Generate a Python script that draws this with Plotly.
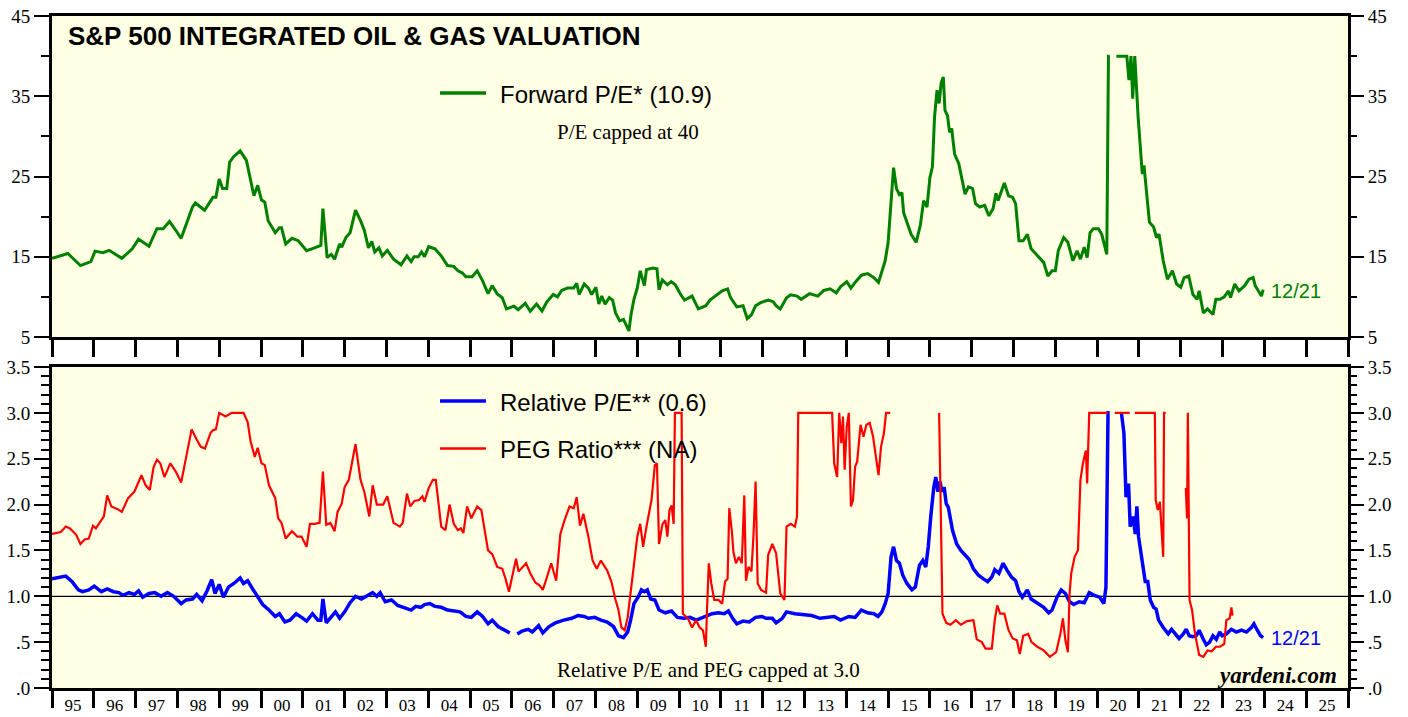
import plotly.graph_objects as go

# ---------------- data ----------------
pe_years = [1995.00, 1995.38, 1995.68, 1995.93, 1996.03, 1996.22, 1996.37, 1996.67, 1996.92, 1997.07,
            1997.32, 1997.51, 1997.66, 1997.81, 1997.96, 1998.09, 1998.36, 1998.43, 1998.65, 1998.85,
            1998.92, 1999.00, 1999.08, 1999.18, 1999.25, 1999.35, 1999.50, 1999.65, 1999.83, 1999.92,
            2000.01, 2000.09, 2000.17, 2000.34, 2000.44, 2000.49, 2000.59, 2000.74, 2000.89, 2001.09,
            2001.28, 2001.43, 2001.48, 2001.58, 2001.68, 2001.76, 2001.88, 2001.93, 2002.03, 2002.13,
            2002.26, 2002.38, 2002.47, 2002.57, 2002.65, 2002.72, 2002.82, 2002.90, 2003.02, 2003.17,
            2003.35, 2003.49, 2003.59, 2003.66, 2003.76, 2003.84, 2003.91, 2004.01, 2004.16, 2004.31,
            2004.46, 2004.61, 2004.71, 2004.81, 2004.90, 2005.05, 2005.17, 2005.30, 2005.43, 2005.53,
            2005.65, 2005.77, 2005.87, 2006.05, 2006.15, 2006.32, 2006.44, 2006.59, 2006.72, 2006.84,
            2006.99, 2007.09, 2007.19, 2007.33, 2007.48, 2007.55, 2007.61, 2007.73, 2007.83, 2007.91,
            2008.01, 2008.08, 2008.15, 2008.23, 2008.33, 2008.41, 2008.48, 2008.58, 2008.67, 2008.72,
            2008.80, 2008.85, 2008.92, 2009.00, 2009.07, 2009.17, 2009.22, 2009.37, 2009.47, 2009.52,
            2009.60, 2009.72, 2009.81, 2009.91, 2010.03, 2010.13, 2010.31, 2010.46, 2010.64, 2010.74,
            2010.89, 2011.03, 2011.16, 2011.23, 2011.38, 2011.53, 2011.63, 2011.73, 2011.83, 2011.96,
            2012.13, 2012.25, 2012.32, 2012.42, 2012.57, 2012.67, 2012.82, 2012.92, 2013.12, 2013.32,
            2013.46, 2013.61, 2013.76, 2013.86, 2014.01, 2014.11, 2014.21, 2014.36, 2014.51, 2014.66,
            2014.77, 2014.85, 2014.93, 2015.00, 2015.07, 2015.13, 2015.20, 2015.27, 2015.33, 2015.37,
            2015.45, 2015.55, 2015.67, 2015.77, 2015.85, 2015.93, 2016.00, 2016.06, 2016.11, 2016.17,
            2016.22, 2016.27, 2016.32, 2016.36, 2016.42, 2016.47, 2016.52, 2016.59, 2016.69, 2016.76,
            2016.84, 2016.92, 2017.02, 2017.09, 2017.19, 2017.31, 2017.41, 2017.51, 2017.58, 2017.63,
            2017.78, 2017.88, 2017.98, 2018.05, 2018.13, 2018.23, 2018.33, 2018.42, 2018.57, 2018.72,
            2018.82, 2018.92, 2019.00, 2019.07, 2019.20, 2019.30, 2019.42, 2019.52, 2019.60, 2019.69,
            2019.76, 2019.83, 2019.91, 2020.03, 2020.11, 2020.19, 2020.23, 2020.27, 2020.30, 2020.38,
            2020.46, 2020.71, 2020.76, 2020.81, 2020.85, 2020.90, 2020.98, 2021.08, 2021.12, 2021.25,
            2021.35, 2021.42, 2021.48, 2021.58, 2021.68, 2021.80, 2021.90, 2022.00, 2022.08, 2022.19,
            2022.29, 2022.39, 2022.44, 2022.54, 2022.64, 2022.77, 2022.84, 2022.94, 2023.04, 2023.14,
            2023.19, 2023.29, 2023.39, 2023.53, 2023.63, 2023.73, 2023.78, 2023.86, 2023.93, 2023.97]
pe_values = [14.8, 15.4, 13.9, 14.4, 15.7, 15.5, 15.8, 14.8, 16.0, 17.2,
             16.3, 18.5, 18.5, 19.4, 18.3, 17.3, 21.2, 21.7, 20.8, 22.4,
             22.4, 24.7, 23.5, 23.5, 26.8, 27.5, 28.2, 27.0, 22.6, 23.9,
             22.1, 21.8, 19.5, 18.0, 18.6, 18.6, 16.6, 17.3, 17.0, 15.75,
             16.1, 16.4, 21.0, 14.9, 15.3, 14.7, 16.6, 16.2, 17.4, 18.0,
             20.8, 19.5, 18.3, 16.1, 16.9, 15.6, 16.1, 15.1, 15.8, 14.7,
             14.0, 15.1, 14.4, 15.0, 15.0, 15.6, 15.0, 16.25, 16.0, 15.1,
             13.9, 13.8, 13.25, 13.0, 12.5, 12.5, 13.25, 12.0, 10.4, 11.4,
             10.35, 9.9, 8.5, 8.85, 8.4, 9.2, 8.2, 9.1, 8.25, 9.4,
             10.3, 10.0, 10.8, 11.1, 11.1, 11.7, 10.3, 11.6, 11.1, 10.3,
             11.2, 9.1, 10.1, 9.1, 9.9, 9.6, 8.0, 7.0, 7.2, 6.6,
             5.75, 7.8, 9.7, 11.1, 13.25, 11.4, 13.4, 13.6, 13.5, 10.9,
             12.1, 11.5, 11.9, 11.5, 10.35, 9.6, 10.1, 8.5, 8.9, 9.6,
             10.25, 10.75, 11.0, 9.9, 8.75, 8.9, 7.3, 7.75, 8.9, 9.3,
             9.6, 9.4, 8.9, 8.5, 9.9, 10.25, 10.1, 9.7, 10.4, 10.1,
             10.8, 11.0, 10.5, 11.25, 11.9, 11.1, 11.8, 12.7, 12.9, 12.4,
             11.8, 13.25, 14.5, 16.8, 22.4, 26.1, 23.5, 22.75, 23.0, 20.5,
             19.3, 17.8, 16.8, 18.9, 22.0, 21.2, 24.9, 26.2, 32.4, 35.75,
             34.1, 36.7, 37.4, 33.25, 32.6, 30.5, 31.0, 27.8, 26.6, 24.9,
             22.8, 23.7, 23.5, 21.6, 21.2, 21.4, 20.1, 21.0, 22.9, 22.0,
             24.2, 22.6, 22.4, 21.6, 17.0, 17.0, 17.8, 16.0, 15.1, 14.3,
             12.6, 13.25, 13.25, 15.75, 17.4, 16.8, 14.5, 15.75, 14.7, 16.2,
             14.9, 18.0, 18.5, 18.5, 17.8, 16.0, 15.3, 40.0, 40.0, None,
             40.0, 40.0, 37.0, 40.0, 34.7, 40.0, 32.4, 25.3, 26.4, 19.3,
             18.7, 17.4, 17.8, 14.5, 12.2, 13.25, 11.6, 11.2, 12.4, 12.6,
             10.3, 9.7, 10.75, 8.0, 8.5, 7.8, 9.7, 9.7, 10.0, 10.75,
             9.9, 11.6, 10.75, 11.4, 12.2, 12.4, 11.4, 10.7, 10.1, 10.9]

rel_years = [1995.00, 1995.33, 1995.48, 1995.63, 1995.73, 1995.88, 1996.01, 1996.18, 1996.32, 1996.47,
             1996.60, 1996.70, 1996.84, 1996.97, 1997.07, 1997.17, 1997.32, 1997.46, 1997.61, 1997.76,
             1997.91, 1998.09, 1998.21, 1998.36, 1998.46, 1998.59, 1998.71, 1998.82, 1998.90, 1999.00,
             1999.10, 1999.22, 1999.35, 1999.50, 1999.58, 1999.68, 1999.80, 1999.94, 2000.04, 2000.19,
             2000.34, 2000.44, 2000.57, 2000.69, 2000.84, 2000.97, 2001.09, 2001.23, 2001.36, 2001.43,
             2001.48, 2001.56, 2001.68, 2001.78, 2001.88, 2002.00, 2002.13, 2002.26, 2002.40, 2002.52,
             2002.67, 2002.77, 2002.85, 2002.97, 2003.12, 2003.27, 2003.42, 2003.59, 2003.70, 2003.82,
             2003.91, 2004.04, 2004.16, 2004.31, 2004.46, 2004.61, 2004.76, 2004.90, 2005.03, 2005.17,
             2005.30, 2005.43, 2005.53, 2005.67, 2005.80, 2005.95, 2006.03, 2006.13, 2006.24, 2006.39,
             2006.49, 2006.64, 2006.74, 2006.89, 2007.04, 2007.24, 2007.43, 2007.58, 2007.73, 2007.83,
             2007.98, 2008.13, 2008.28, 2008.43, 2008.55, 2008.67, 2008.77, 2008.84, 2008.92, 2009.02,
             2009.10, 2009.17, 2009.24, 2009.32, 2009.42, 2009.52, 2009.67, 2009.82, 2009.96, 2010.11,
             2010.26, 2010.41, 2010.64, 2010.79, 2010.94, 2011.08, 2011.18, 2011.28, 2011.38, 2011.53,
             2011.68, 2011.83, 2011.98, 2012.08, 2012.23, 2012.32, 2012.47, 2012.57, 2012.77, 2012.97,
             2013.17, 2013.37, 2013.56, 2013.71, 2013.86, 2014.06, 2014.21, 2014.36, 2014.51, 2014.66,
             2014.76, 2014.85, 2014.93, 2015.00, 2015.07, 2015.13, 2015.20, 2015.27, 2015.35, 2015.45,
             2015.57, 2015.65, 2015.75, 2015.83, 2015.90, 2015.96, 2016.02, 2016.09, 2016.14, 2016.19,
             2016.24, 2016.29, 2016.34, 2016.39, 2016.44, 2016.49, 2016.54, 2016.64, 2016.74, 2016.84,
             2016.94, 2017.04, 2017.16, 2017.28, 2017.38, 2017.48, 2017.55, 2017.65, 2017.75, 2017.85,
             2017.95, 2018.05, 2018.13, 2018.21, 2018.33, 2018.42, 2018.57, 2018.72, 2018.84, 2018.92,
             2019.04, 2019.14, 2019.24, 2019.34, 2019.44, 2019.57, 2019.69, 2019.81, 2019.93, 2020.06,
             2020.16, 2020.21, 2020.26, 2020.30, 2020.40, 2020.58, 2020.64, 2020.69, 2020.75, 2020.79,
             2020.86, 2020.91, 2020.95, 2020.99, 2021.05, 2021.11, 2021.15, 2021.21, 2021.27, 2021.35,
             2021.41, 2021.47, 2021.58, 2021.70, 2021.78, 2021.86, 2021.96, 2022.06, 2022.13, 2022.20,
             2022.29, 2022.37, 2022.44, 2022.53, 2022.61, 2022.69, 2022.77, 2022.85, 2022.93, 2022.99,
             2023.09, 2023.21, 2023.33, 2023.45, 2023.57, 2023.69, 2023.75, 2023.83, 2023.91, 2023.97]
rel_values = [1.19, 1.22, 1.16, 1.07, 1.05, 1.07, 1.11, 1.05, 1.08, 1.05,
              1.04, 1.01, 1.04, 1.02, 1.06, 0.99, 1.03, 1.04, 1.00, 1.04,
              1.00, 0.92, 0.96, 0.97, 1.02, 0.95, 1.06, 1.18, 1.03, 1.13,
              0.99, 1.10, 1.14, 1.20, 1.14, 1.17, 1.08, 0.97, 0.91, 0.85,
              0.78, 0.81, 0.72, 0.74, 0.81, 0.77, 0.73, 0.81, 0.74, 0.74,
              0.97, 0.71, 0.77, 0.83, 0.76, 0.83, 0.93, 1.00, 0.97, 1.00,
              1.04, 1.00, 1.04, 0.94, 0.96, 0.90, 0.88, 0.85, 0.89, 0.88,
              0.91, 0.92, 0.89, 0.88, 0.85, 0.84, 0.83, 0.78, 0.77, 0.83,
              0.78, 0.70, 0.74, 0.67, 0.64, 0.60, None, 0.59, 0.62, 0.64,
              0.61, 0.68, 0.60, 0.67, 0.71, 0.74, 0.76, 0.79, 0.78, 0.76,
              0.77, 0.74, 0.72, 0.67, 0.57, 0.55, 0.61, 0.74, 0.92, 0.99,
              1.07, 1.05, 1.07, 0.97, 0.96, 0.85, 0.82, 0.84, 0.77, 0.76,
              0.77, 0.74, 0.78, 0.81, 0.82, 0.81, 0.84, 0.76, 0.70, 0.73,
              0.72, 0.77, 0.78, 0.76, 0.76, 0.71, 0.76, 0.83, 0.81, 0.80,
              0.79, 0.76, 0.77, 0.78, 0.74, 0.78, 0.77, 0.85, 0.82, 0.81,
              0.78, 0.83, 0.92, 1.03, 1.43, 1.54, 1.39, 1.36, 1.23, 1.14,
              1.07, 1.10, 1.34, 1.39, 1.32, 1.54, 1.87, 2.18, 2.30, 2.14,
              2.25, 2.14, 2.19, 2.01, 1.97, 1.85, 1.72, 1.57, 1.50, 1.45,
              1.40, 1.30, 1.23, 1.19, 1.16, 1.21, 1.29, 1.25, 1.36, 1.28,
              1.21, 1.17, 1.05, 0.99, 1.07, 0.97, 0.92, 0.88, 0.82, 0.85,
              0.99, 1.07, 1.03, 0.94, 0.91, 0.94, 0.93, 1.04, 1.01, 0.99,
              0.92, 1.10, 3.00, 3.00, None, 3.00, 2.78, 2.08, 2.23, 1.76,
              1.87, 1.68, 1.98, 1.65, 1.43, 1.28, 1.16, 1.16, 0.96, 0.88,
              0.86, 0.74, 0.66, 0.59, 0.64, 0.59, 0.54, 0.59, 0.64, 0.57,
              0.56, 0.57, 0.63, 0.54, 0.47, 0.50, 0.57, 0.53, 0.61, 0.57,
              0.59, 0.64, 0.61, 0.63, 0.61, 0.66, 0.70, 0.63, 0.57, 0.55]

peg_years = [1995.00, 1995.21, 1995.33, 1995.43, 1995.58, 1995.68, 1995.78, 1995.88, 1995.98, 1996.05,
             1996.18, 1996.24, 1996.32, 1996.42, 1996.57, 1996.67, 1996.82, 1996.97, 1997.14, 1997.24,
             1997.34, 1997.43, 1997.51, 1997.59, 1997.69, 1997.83, 1997.96, 1998.09, 1998.21, 1998.34,
             1998.46, 1998.56, 1998.66, 1998.79, 1998.85, 1998.92, 1999.00, 1999.15, 1999.30, 1999.58,
             1999.68, 1999.75, 1999.85, 1999.92, 2000.01, 2000.09, 2000.19, 2000.34, 2000.41, 2000.49,
             2000.59, 2000.74, 2000.87, 2000.97, 2001.09, 2001.17, 2001.28, 2001.40, 2001.48, 2001.56,
             2001.66, 2001.76, 2001.83, 2001.93, 2002.00, 2002.10, 2002.26, 2002.38, 2002.47, 2002.59,
             2002.67, 2002.77, 2002.92, 2003.02, 2003.17, 2003.32, 2003.39, 2003.49, 2003.57, 2003.67,
             2003.78, 2003.86, 2003.91, 2004.01, 2004.11, 2004.18, 2004.31, 2004.41, 2004.51, 2004.61,
             2004.71, 2004.78, 2004.84, 2004.93, 2005.03, 2005.17, 2005.27, 2005.43, 2005.53, 2005.65,
             2005.77, 2005.85, 2005.93, 2006.03, 2006.10, 2006.16, 2006.26, 2006.34, 2006.44, 2006.56,
             2006.66, 2006.74, 2006.84, 2006.94, 2007.06, 2007.16, 2007.26, 2007.38, 2007.48, 2007.55,
             2007.63, 2007.71, 2007.83, 2007.93, 2008.03, 2008.13, 2008.28, 2008.38, 2008.48, 2008.55,
             2008.62, 2008.70, 2008.77, 2008.82, 2008.92, 2009.00, 2009.07, 2009.14, 2009.22, 2009.34,
             2009.42, 2009.47, 2009.52, 2009.60, 2009.67, 2009.72, 2009.77, 2009.82, 2009.87, 2009.90,
             2010.06, 2010.09, 2010.21, 2010.31, 2010.41, 2010.49, 2010.57, 2010.64, 2010.67, 2010.71,
             2010.77, 2010.84, 2010.94, 2011.03, 2011.10, 2011.16, 2011.20, 2011.26, 2011.30, 2011.36,
             2011.43, 2011.50, 2011.56, 2011.60, 2011.66, 2011.73, 2011.78, 2011.83, 2011.88, 2011.96,
             2012.08, 2012.13, 2012.23, 2012.32, 2012.42, 2012.52, 2012.57, 2012.67, 2012.77, 2012.82,
             2012.85, 2013.66, 2013.71, 2013.78, 2013.83, 2013.88, 2013.92, 2013.96, 2014.01, 2014.06,
             2014.11, 2014.16, 2014.21, 2014.26, 2014.34, 2014.41, 2014.48, 2014.56, 2014.64, 2014.70,
             2014.77, 2014.83, 2014.90, 2014.95, 2015.05, 2015.10, 2016.22, 2016.30, 2016.39, 2016.49,
             2016.62, 2016.74, 2016.89, 2017.04, 2017.12, 2017.24, 2017.33, 2017.48, 2017.55, 2017.61,
             2017.68, 2017.78, 2017.88, 2017.98, 2018.08, 2018.15, 2018.23, 2018.35, 2018.43, 2018.57,
             2018.72, 2018.87, 2019.02, 2019.12, 2019.18, 2019.24, 2019.30, 2019.34, 2019.38, 2019.46,
             2019.54, 2019.60, 2019.66, 2019.73, 2019.76, 2019.81, 2020.25, 2020.33, 2020.42, 2020.78,
             2020.84, 2020.90, 2021.38, 2021.40, 2021.45, 2021.50, 2021.58, 2021.60, 2021.64, 2021.90,
             2022.12, 2022.15, 2022.17, 2022.21, 2022.27, 2022.34, 2022.44, 2022.54, 2022.64, 2022.74,
             2022.84, 2022.94, 2023.04, 2023.09, 2023.17, 2023.21, 2023.24]
peg_values = [1.68, 1.70, 1.76, 1.74, 1.67, 1.57, 1.62, 1.63, 1.77, 1.74,
              1.83, 1.87, 2.10, 1.98, 1.95, 1.92, 2.07, 2.14, 2.32, 2.21,
              2.16, 2.41, 2.49, 2.45, 2.30, 2.45, 2.36, 2.24, 2.52, 2.82,
              2.71, 2.63, 2.61, 2.78, 2.81, 2.82, 3.00, 2.96, 3.00, 3.00,
              2.90, 2.69, 2.52, 2.62, 2.45, 2.43, 2.21, 2.07, 1.85, 1.80,
              1.63, 1.71, 1.65, 1.65, 1.54, 1.79, 1.79, 1.80, 2.36, 1.78,
              1.80, 1.71, 1.92, 2.01, 2.19, 2.27, 2.66, 2.27, 2.14, 1.87,
              2.21, 2.00, 2.00, 2.09, 1.80, 1.76, 1.80, 2.12, 1.98, 2.04,
              2.05, 2.09, 2.03, 2.18, 2.27, 2.27, 1.76, 1.72, 2.00, 1.79,
              1.72, 1.74, 1.69, 1.98, 1.85, 1.98, 1.94, 1.50, 1.46, 1.32,
              1.30, 1.19, 1.05, 1.28, 1.41, 1.27, 1.32, 1.36, 1.25, 1.15,
              1.12, 1.07, 1.21, 1.36, 1.17, 1.68, 1.83, 1.98, 1.96, 2.08,
              1.77, 1.90, 1.65, 1.39, 1.30, 1.39, 1.28, 1.16, 0.96, 0.85,
              0.66, 0.63, 0.77, 0.96, 1.39, 1.65, 1.79, 1.54, 1.76, 2.05,
              2.43, 2.45, 1.57, 1.78, 1.83, 1.65, 1.94, 1.99, 1.79, 3.00,
              3.00, 0.81, 0.76, 0.66, 0.74, 0.66, 0.63, 0.45, 0.88, 1.36,
              1.14, 0.96, 0.96, 0.92, 1.16, 1.19, 1.96, 1.72, 1.48, 1.36,
              1.43, 1.36, 2.10, 1.17, 1.32, 1.27, 1.67, 2.25, 1.14, 1.07,
              1.04, 1.45, 1.57, 1.47, 1.03, 0.96, 1.76, 1.79, 1.76, 1.87,
              3.00, 3.00, 2.45, 2.30, 3.00, 2.67, 2.96, 2.38, 2.85, 3.00,
              1.98, 2.05, 2.41, 2.47, 2.87, 2.74, 2.87, 2.89, 2.74, 2.56,
              2.32, 2.63, 2.78, 3.00, 3.00, None, 3.00, 0.81, 0.71, 0.69,
              0.74, 0.69, 0.73, 0.74, 0.53, 0.50, 0.43, 0.43, 0.74, 0.90,
              0.81, 0.81, 0.63, 0.54, 0.52, 0.37, 0.57, 0.59, 0.50, 0.45,
              0.41, 0.34, 0.39, 0.59, 0.76, 0.52, 0.39, 1.03, 1.25, 1.43,
              1.50, 2.27, 2.45, 2.59, 2.23, 3.00, 3.00, None, 3.00, 3.00,
              None, 3.00, 3.00, 2.05, 1.94, 2.03, 1.43, 3.00, 3.00, None,
              2.18, 1.85, 3.00, 0.96, 0.85, 0.59, 0.36, 0.34, 0.41, 0.40,
              0.45, 0.45, 0.48, 0.74, 0.76, 0.88, 0.79]

year_ticks = list(range(1995, 2027))
year_label_pos = [y + 0.5 for y in range(1995, 2026)]
year_labels = ["95", "96", "97", "98", "99", "00", "01", "02", "03", "04", "05",
               "06", "07", "08", "09", "10", "11", "12", "13", "14", "15",
               "16", "17", "18", "19", "20", "21", "22", "23", "24", "25"]
pe_major = [5, 15, 25, 35, 45]
pe_major_text = ["5", "15", "25", "35", "45"]
pe_minor = [10, 20, 30, 40]
rel_major = [0, 0.5, 1.0, 1.5, 2.0, 2.5, 3.0, 3.5]
rel_major_text = [".0", ".5", "1.0", "1.5", "2.0", "2.5", "3.0", "3.5"]

# ---------------- styling ----------------
GREEN = "#008000"
BLUE = "#0000FF"
RED = "#FF0000"
BG = "#FFFFE4"
SERIF = "Liberation Serif"
SANS = "Liberation Sans"

# the page body margin is removed (see post_script), so the figure fills the page
W, H = 1408, 717
L, R, T, B = 52, 1348, 16, 688


def px(xp):
    """page x pixel -> paper fraction"""
    return (xp - L) / (R - L)


def py(yp):
    """page y pixel -> paper fraction"""
    return (B - yp) / (B - T)


top_dom = [py(337), 1.0]
bot_dom = [0.0, py(367)]

fig = go.Figure()
fig.add_trace(go.Scatter(x=pe_years, y=pe_values, mode="lines",
                         line=dict(color=GREEN, width=3), xaxis="x", yaxis="y",
                         showlegend=False, hoverinfo="skip"))
fig.add_trace(go.Scatter(x=rel_years, y=rel_values, mode="lines",
                         line=dict(color=BLUE, width=3.5), xaxis="x2", yaxis="y2",
                         showlegend=False, hoverinfo="skip"))
fig.add_trace(go.Scatter(x=peg_years, y=peg_values, mode="lines",
                         line=dict(color=RED, width=2.2), xaxis="x2", yaxis="y2",
                         showlegend=False, hoverinfo="skip"))
# carriers for the right-hand mirror axes
fig.add_trace(go.Scatter(x=[None], y=[None], xaxis="x", yaxis="y3",
                         showlegend=False, hoverinfo="skip"))
fig.add_trace(go.Scatter(x=[None], y=[None], xaxis="x2", yaxis="y4",
                         showlegend=False, hoverinfo="skip"))

tickfont = dict(family=SERIF, size=19, color="black")
xtickfont = dict(family=SERIF, size=17, color="black")

xcommon = dict(range=[1995, 2026], showgrid=False, zeroline=False, automargin=False,
               showline=True, linewidth=3, linecolor="black", mirror=True,
               tickvals=year_label_pos, ticktext=year_labels,
               ticks="outside", ticklen=0, tickcolor="rgba(0,0,0,0)",
               tickfont=xtickfont, ticklabeloverflow="allow",
               minor=dict(tickvals=year_ticks, ticks="outside", ticklen=17,
                          tickwidth=3, tickcolor="black", showgrid=False))

ycommon = dict(showgrid=False, zeroline=False, ticks="outside", ticklen=15,
               automargin=False, tickwidth=1.5, tickcolor="black", tickfont=tickfont,
               ticklabeloverflow="allow")

fig.update_layout(
    width=W, height=H,
    margin=dict(l=L, r=W - R, t=T, b=H - B, autoexpand=False),
    paper_bgcolor="white", plot_bgcolor=BG,
    showlegend=False,
    xaxis=dict(domain=[0, 1], anchor="y", showticklabels=False, **xcommon),
    xaxis2=dict(domain=[0, 1], anchor="y2", showticklabels=True, **xcommon),
    yaxis=dict(domain=top_dom, anchor="x", range=[5, 45],
               tickvals=pe_major, ticktext=pe_major_text,
               showline=True, linewidth=3, linecolor="black", mirror=True,
               minor=dict(tickvals=pe_minor, ticks="outside", ticklen=8,
                          tickwidth=2, tickcolor="black"),
               **ycommon),
    yaxis3=dict(overlaying="y", side="right", anchor="x", range=[5, 45],
                tickvals=pe_major, ticktext=pe_major_text, showline=False,
                minor=dict(tickvals=pe_minor, ticks="outside", ticklen=8,
                           tickwidth=2, tickcolor="black"),
                **ycommon),
    yaxis2=dict(domain=bot_dom, anchor="x2", range=[0, 3.5],
                tickvals=rel_major, ticktext=rel_major_text,
                showline=True, linewidth=3, linecolor="black", mirror=True,
                minor=dict(dtick=0.1, tick0=0, ticks="outside", ticklen=8,
                           tickwidth=2, tickcolor="black"),
                **ycommon),
    yaxis4=dict(overlaying="y2", side="right", anchor="x2", range=[0, 3.5],
                tickvals=rel_major, ticktext=rel_major_text, showline=False,
                minor=dict(dtick=0.1, tick0=0, ticks="outside", ticklen=8,
                           tickwidth=2, tickcolor="black"),
                **ycommon),
)

shapes = [
    dict(type="line", xref="x2 domain", yref="y2", x0=0, x1=1, y0=1.0, y1=1.0,
         line=dict(color="black", width=1.2), layer="below"),
    dict(type="line", xref="paper", yref="paper", x0=px(440), x1=px(486),
         y0=py(93), y1=py(93), line=dict(color=GREEN, width=3.5)),
    dict(type="line", xref="paper", yref="paper", x0=px(440), x1=px(486),
         y0=py(401), y1=py(401), line=dict(color=BLUE, width=3.5)),
    dict(type="line", xref="paper", yref="paper", x0=px(440), x1=px(486),
         y0=py(448.5), y1=py(448.5), line=dict(color=RED, width=2.5)),
]
fig.update_layout(shapes=shapes)

ann = [
    dict(text="<b>S&P 500 INTEGRATED OIL & GAS VALUATION</b>", xref="paper", yref="paper",
         x=px(66), y=py(36), xanchor="left", yanchor="middle", showarrow=False,
         font=dict(family=SANS, size=26, color="black")),
    dict(text="Forward P/E* (10.9)", xref="paper", yref="paper",
         x=px(498), y=py(94), xanchor="left", yanchor="middle", showarrow=False,
         font=dict(family=SANS, size=24, color="black")),
    dict(text="P/E capped at 40", xref="paper", yref="paper",
         x=px(555), y=py(132), xanchor="left", yanchor="middle", showarrow=False,
         font=dict(family=SERIF, size=21, color="black")),
    dict(text="Relative P/E** (0.6)", xref="paper", yref="paper",
         x=px(498), y=py(402), xanchor="left", yanchor="middle", showarrow=False,
         font=dict(family=SANS, size=24, color="black")),
    dict(text="PEG Ratio*** (NA)", xref="paper", yref="paper",
         x=px(498), y=py(449), xanchor="left", yanchor="middle", showarrow=False,
         font=dict(family=SANS, size=24, color="black")),
    dict(text="Relative P/E and PEG capped at 3.0", xref="paper", yref="paper",
         x=px(555), y=py(670), xanchor="left", yanchor="middle", showarrow=False,
         font=dict(family=SERIF, size=21, color="black")),
    dict(text="<b><i>yardeni.com</i></b>", xref="paper", yref="paper",
         x=px(1339), y=py(675), xanchor="right", yanchor="middle", showarrow=False,
         font=dict(family=SERIF, size=23, color="black")),
    dict(text="12/21", xref="x", yref="y", x=2024.12, y=10.7,
         xanchor="left", yanchor="middle", showarrow=False,
         font=dict(family=SANS, size=20, color=GREEN)),
    dict(text="12/21", xref="x2", yref="y2", x=2024.12, y=0.55,
         xanchor="left", yanchor="middle", showarrow=False,
         font=dict(family=SANS, size=20, color=BLUE)),
]
fig.update_layout(annotations=ann)

fig.write_html("out.html",
               config={"displayModeBar": False},
               post_script="document.body.style.margin='0';"
                           "document.body.style.overflow='hidden';")
